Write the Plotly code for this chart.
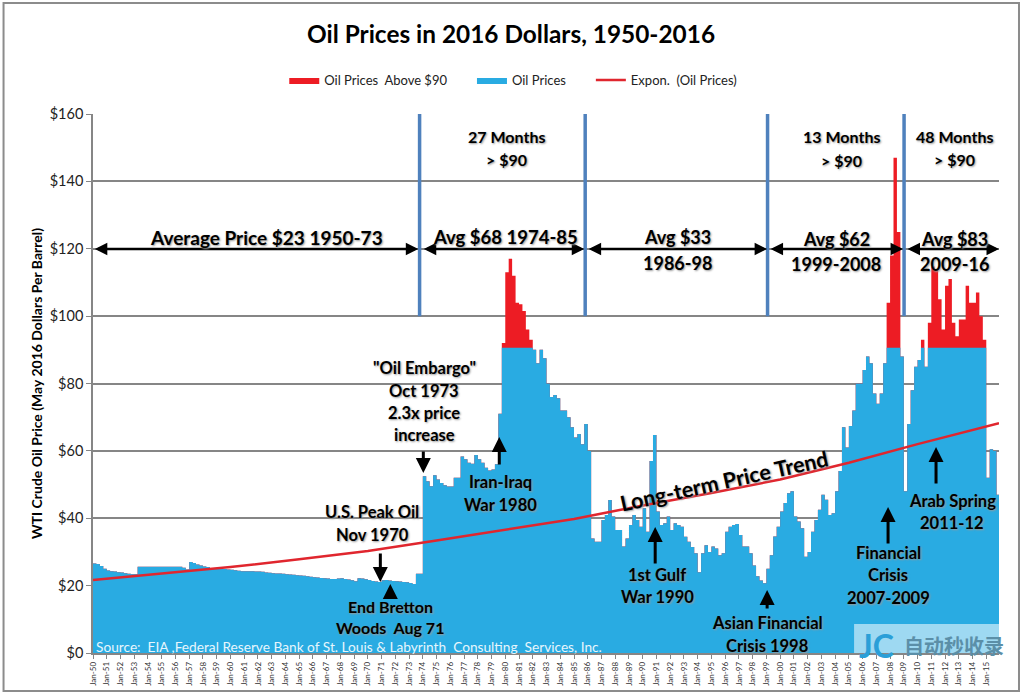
import pandas as pd
import plotly.graph_objects as go

# Quarterly WTI price in May 2016 dollars
prices_1950s = [26.6, 26.4, 25.8, 25.0, 24.5, 24.3, 24.2, 24.0, 23.9, 23.7, 23.5, 23.4, 23.4, 25.6, 25.6, 25.6,
                25.6, 25.6, 25.6, 25.6, 25.6, 25.6, 25.6, 25.6, 25.6, 25.6, 25.3, 24.8, 27.0, 26.7, 26.3, 26.0,
                25.7, 25.5, 25.2, 25.0, 24.9, 24.9, 24.9, 24.8]
prices_1960s = [24.7, 24.6, 24.4, 24.3, 24.3, 24.3, 24.3, 24.2, 24.2, 24.1, 23.9, 23.8, 23.7, 23.6, 23.6, 23.5,
                23.4, 23.3, 23.2, 23.1, 23.0, 22.9, 22.8, 22.6, 22.5, 22.4, 22.3, 22.2, 22.1, 22.0, 22.0, 22.1,
                22.2, 22.0, 21.8, 21.6, 21.3, 22.2, 22.1, 21.9]
prices_1970s = [21.7, 21.4, 21.2, 21.1, 21.6, 21.7, 21.5, 21.4, 21.3, 21.2, 21.1, 21.0, 20.8, 20.5, 23.5, 23.5,
                52.5, 51.0, 49.5, 52.8, 51.5, 50.5, 49.8, 49.4, 49.4, 52.0, 52.0, 58.3, 57.5, 56.5, 56.2, 58.8,
                57.5, 56.5, 55.0, 54.2, 54.5, 56.0, 71.0, 92.0]
prices_1980s = [113.0, 117.0, 112.0, 104.0, 103.5, 101.5, 96.0, 93.0, 90.0, 86.0, 90.0, 87.5, 80.0, 76.0, 76.6, 75.6,
                72.0, 72.0, 70.0, 67.0, 64.0, 65.0, 62.0, 68.0, 60.0, 34.0, 33.0, 33.0, 39.5, 41.0, 45.4, 40.5,
                36.5, 36.5, 31.6, 34.0, 38.0, 41.0, 39.5, 37.5]
prices_1990s = [43.0, 36.0, 57.0, 64.7, 42.0, 38.0, 38.5, 40.5, 36.5, 38.5, 38.0, 37.5, 34.5, 33.0, 31.5, 29.6,
                24.0, 29.6, 32.0, 30.0, 31.6, 31.0, 29.0, 29.6, 36.0, 37.5, 38.0, 38.3, 35.0, 31.6, 31.6, 29.6,
                26.0, 22.8, 21.5, 20.7, 25.0, 29.0, 34.6, 37.5]
prices_2000s = [42.0, 44.5, 47.4, 48.0, 40.5, 39.0, 37.0, 28.6, 30.0, 36.0, 39.5, 42.5, 47.0, 45.5, 41.0, 41.5,
                48.0, 54.0, 67.0, 61.0, 67.4, 72.0, 80.0, 80.0, 84.0, 88.0, 86.0, 77.0, 74.0, 77.0, 86.0, 104.0,
                118.0, 147.0, 125.0, 88.0, 48.0, 68.0, 78.0, 85.0]
prices_2010s = [87.0, 93.0, 85.0, 98.0, 114.7, 114.0, 105.0, 96.0, 109.0, 111.0, 98.0, 94.0, 99.0, 99.0, 109.0, 104.0,
                104.0, 107.0, 100.0, 93.0, 52.0, 60.5, 60.0, 47.0]
oil_prices = prices_1950s + prices_1960s + prices_1970s + prices_1980s + prices_1990s + prices_2000s + prices_2010s

# Trend line, read every five years
trend_dates = ["1950-01-01", "1955-01-01", "1960-01-01", "1965-01-01", "1970-01-01", "1975-01-01", "1980-01-01",
               "1985-01-01", "1990-01-01", "1995-01-01", "2000-01-01", "2005-01-01", "2010-01-01", "2015-12-05"]
trend_values = [21.7, 23.6, 25.5, 27.8, 30.3, 33.4, 36.6, 39.8, 43.8, 47.5, 51.5, 56.5, 62.0, 68.2]

period_lines = ["1973-10-07", "1985-10-25", "1999-02-01", "2009-01-07"]
BLUE_CAP = 90.6
END_DATE = "2015-12-05"

BLUE = "#29abe2"
RED = "#ed1c24"
GRID = "#868686"
FONT = "Lato"
PAD = "&nbsp;" * 6  # wider gap between legend entries

dates = [d.strftime("%Y-%m-%d") for d in pd.date_range("1950-01-01", periods=len(oil_prices), freq="QS")]
x_vals = dates + [END_DATE]
y_all = oil_prices + [oil_prices[-1]]
y_blue = [min(p, BLUE_CAP) for p in y_all]


# Annotations are placed from picture pixels
def px(x):
    return (x - 92.5) / 906.5


def py(y):
    return (653 - y) / 539


notes = []


def note(x, ys, lines, size=16.5, color="black", bold=True, shadow="1px 1px 2px #999", family=FONT):
    for y, line in zip(ys, lines):
        notes.append(dict(x=px(x), y=py(y), xref="paper", yref="paper", showarrow=False, text="<b>%s</b>" % line if bold else line,
                          font=dict(family=family, size=size, color=color, shadow=shadow), xanchor="center", yanchor="middle"))


def arrow(x, y_tail, y_head):
    notes.append(dict(x=px(x), y=py(y_head), xref="paper", yref="paper", ax=0, ay=y_tail - y_head, axref="pixel", ayref="pixel",
                      text="", showarrow=True, arrowhead=2, arrowsize=1, arrowwidth=3, arrowcolor="black"))


def span(x0, x1, y=249):
    notes.append(dict(x=px(x1), y=py(y), xref="paper", yref="paper", ax=x0 - x1, ay=0, axref="pixel", ayref="pixel",
                      text="", showarrow=True, arrowhead=2, startarrowhead=2, arrowside="end+start", arrowsize=1,
                      startarrowsize=1, arrowwidth=2.5, arrowcolor="black"))


for a, b in [(93, 418), (422, 584), (587, 767), (769, 903), (906, 999)]:
    span(a, b)

note(506, [136, 159], ["27 Months", "&gt; $90"], size=16)
note(841, [137, 160], ["13 Months", "&gt; $90"], size=16)
note(954, [136, 159], ["48 Months", "&gt; $90"], size=16)
note(266, [237], ["Average Price $23 1950-73"], size=19)
note(505, [237], ["Avg $68 1974-85"], size=18.5)
note(677, [237, 263], ["Avg $33", "1986-98"], size=18)
note(836, [239, 264], ["Avg $62", "1999-2008"], size=18)
note(954, [239, 264], ["Avg $83", "2009-16"], size=18)
note(424, [368, 391, 413, 435], ['"Oil Embargo"', "Oct 1973", "2.3x price", "increase"])
note(500, [482, 505], ["Iran-Iraq", "War 1980"])
note(372, [512, 535], ["U.S. Peak Oil", "Nov 1970"])
note(390, [606, 627], ["End Bretton", "Woods  Aug 71"], size=16)
note(657, [575, 597], ["1st Gulf", "War 1990"])
note(767, [623, 646], ["Asian Financial", "Crisis 1998"])
note(888, [553, 575, 598], ["Financial", "Crisis", "2007-2009"])
note(952, [501, 523], ["Arab Spring", "2011-12"])
note(349, [646], ["Source:  EIA ,Federal Reserve Bank of St. Louis &amp; Labyrinth  Consulting  Services, Inc."],
     size=13.7, color="#e6f6fd", bold=False, shadow="none")

notes.append(dict(x=px(724), y=py(481), xref="paper", yref="paper", showarrow=False, text="<b>Long-term Price Trend</b>",
                  textangle=-12.5, xanchor="center", yanchor="middle",
                  font=dict(family=FONT, size=21.5, color="black", shadow="1px 1px 2px #999")))

arrow(423, 450, 473)
arrow(499, 466, 437)
arrow(380, 552, 582)
arrow(390, 600, 584)
arrow(655, 565, 527)
arrow(767, 610, 590)
arrow(888, 545, 507)
arrow(936, 485, 447)

# Watermark in the lower right corner of the picture
note(954, [645], ["自动秒收录"], size=20, color="#5b8fa8", shadow="none", family="Noto Sans CJK SC")
note(876, [645], ["JC"], size=32, color="#2a9fd8", shadow="none")

shapes = [dict(type="line", xref="x", yref="y", x0=d, x1=d, y0=100, y1=160, line=dict(color="#4f81bd", width=3.5)) for d in period_lines]
shapes.append(dict(type="rect", xref="paper", yref="paper", x0=px(3), x1=px(1019), y0=py(691), y1=py(3),
                   line=dict(color="#8c8c8c", width=2), layer="below"))
shapes.append(dict(type="rect", xref="paper", yref="paper", x0=px(854), x1=px(999), y0=py(653), y1=py(624),
                   line=dict(width=0), fillcolor="rgba(255,255,255,0.55)", layer="above"))

fig = go.Figure()
fig.add_trace(go.Scatter(x=x_vals, y=y_all, name="Oil Prices  Above $90" + PAD, mode="lines", fill="tozeroy",
                         fillcolor=RED, line=dict(color=RED, width=0, shape="hv")))
fig.add_trace(go.Scatter(x=x_vals, y=y_blue, name="Oil Prices" + PAD, mode="lines", fill="tozeroy",
                         fillcolor=BLUE, line=dict(color=BLUE, width=0, shape="hv")))
fig.add_trace(go.Scatter(x=trend_dates, y=trend_values, name="Expon.  (Oil Prices)", mode="lines",
                         line=dict(color="#e0262e", width=2.5)))

fig.update_layout(
    width=1024, height=694,
    margin=dict(l=92.5, r=25, t=114, b=41),
    paper_bgcolor="white", plot_bgcolor="white",
    font=dict(family=FONT, color="black"),
    title=dict(text="<b>Oil Prices in 2016 Dollars, 1950-2016</b>", x=511 / 1024, y=1 - 34 / 694, xanchor="center", yanchor="middle",
               font=dict(family=FONT, size=24.4, color="black")),
    legend=dict(orientation="h", x=px(513), xanchor="center", y=1.063, yanchor="middle", font=dict(size=13, color="#222"),
                itemwidth=30, tracegroupgap=0, bgcolor="rgba(0,0,0,0)"),
    annotations=notes,
    shapes=shapes,
)
fig.update_xaxes(type="date", range=["1950-01-01", END_DATE], dtick="M12", tick0="1950-01-01", tickformat="%b-%y", tickangle=-90,
                 tickfont=dict(size=8, color="#333"), ticks="outside", ticklen=4, tickcolor=GRID, showgrid=False,
                 showline=True, linecolor=GRID, linewidth=1.5, automargin=False)
fig.update_yaxes(range=[0, 160], dtick=20, tickprefix="$", tickfont=dict(size=14.5, color="#222"), ticks="outside", ticklen=5,
                 tickcolor=GRID, showgrid=True, gridcolor=GRID, gridwidth=1.5, showline=True, linecolor=GRID, linewidth=1.5,
                 zeroline=False,
                 title=dict(text="<b>WTI Crude Oil Price (May 2016 Dollars Per Barrel)</b>", font=dict(size=14, color="black"), standoff=4))

fig.write_html("out.html", config=dict(displayModeBar=False), post_script="document.body.style.margin='0';")
